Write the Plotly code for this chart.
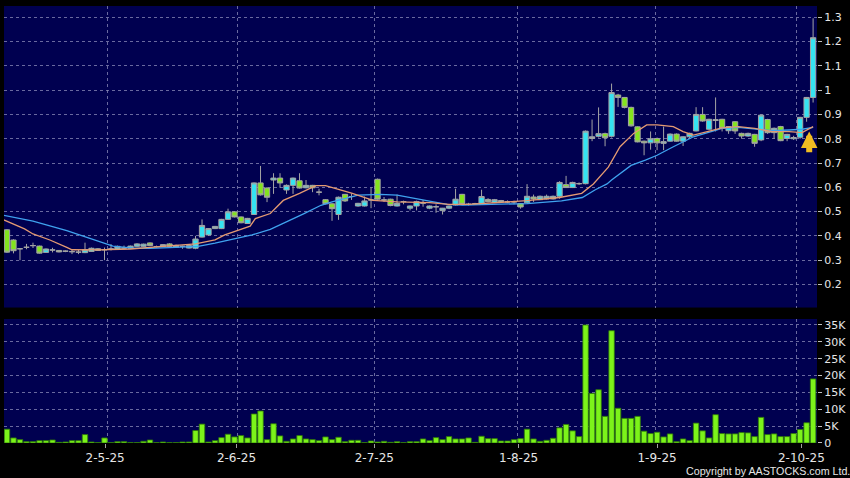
import plotly.graph_objects as go

# ---------------- data ----------------
idx = list(range(125))

opens = [.425, .383, .347, .353, .360, .358, .332, .342, .340, .337,
         .335, .333, .331, .336, .347, .343, .346, .346, .350, .349,
         .357, .357, .371, .356, .356, .367, .353, .357, .350, .349,
         .395, .404, .430, .430, .468, .499, .478, .451, .488, .618,
         .597, .630, .638, .589, .608, .627, .598, .608, .580, .549,
         .532, .488, .571, .562, .523, .523, .548, .633, .548, .551,
         .523, .541, .514, .523, .535, .514, .520, .504, .514, .527,
         .571, .530, .532, .530, .550, .537, .540, .540, .540, .533,
         .536, .560, .549, .552, .552, .563, .611, .599, .615, .615,
         .801, .810, .821, .810, .980, .970, .929, .849, .790, .783,
         .801, .781, .790, .819, .790, .808, .832, .900, .839, .875,
         .880, .833, .870, .822, .811, .818, .795, .879, .825, .850,
         .801, .800, .806, .888, .970]
highs = [.428, .386, .350, .367, .372, .360, .348, .351, .342, .340,
         .342, .342, .372, .352, .350, .352, .366, .360, .360, .360,
         .370, .368, .373, .360, .366, .370, .364, .360, .364, .400,
         .468, .432, .441, .470, .512, .502, .480, .474, .620, .688,
         .600, .658, .658, .612, .640, .658, .630, .610, .594, .551,
         .534, .562, .573, .575, .536, .562, .600, .636, .560, .553,
         .570, .545, .525, .545, .548, .525, .530, .515, .525, .594,
         .573, .536, .536, .590, .555, .552, .548, .546, .545, .535,
         .613, .570, .566, .570, .566, .625, .647, .623, .620, .834,
         .879, .929, .825, 1.027, .985, .972, .932, .851, .792, .830,
         .805, .850, .822, .822, .810, .825, .930, .930, .882, .970,
         .882, .852, .873, .825, .825, .820, .900, .882, .846, .853,
         .820, .812, .890, .972, 1.296]
lows = [.330, .328, .300, .345, .350, .327, .330, .332, .332, .333,
        .325, .325, .329, .334, .338, .300, .340, .344, .345, .347,
        .355, .355, .358, .352, .354, .355, .350, .347, .348, .345,
        .393, .400, .428, .428, .466, .476, .452, .449, .486, .566,
        .539, .573, .598, .573, .573, .595, .596, .580, .567, .530,
        .462, .466, .540, .548, .520, .521, .514, .549, .540, .522,
        .521, .530, .505, .505, .520, .510, .495, .488, .510, .525,
        .526, .525, .528, .528, .538, .535, .536, .535, .530, .512,
        .534, .540, .547, .550, .550, .553, .597, .597, .610, .612,
        .790, .805, .769, .805, .931, .925, .850, .785, .732, .755,
        .753, .753, .788, .788, .770, .800, .830, .870, .835, .830,
        .830, .820, .820, .800, .808, .767, .790, .820, .800, .790,
        .790, .795, .800, .870, .949]
closes = [.333, .339, .347, .353, .360, .329, .346, .342, .334, .337,
          .335, .333, .343, .349, .340, .343, .346, .357, .350, .358,
          .367, .366, .360, .356, .364, .357, .361, .357, .360, .387,
          .443, .430, .439, .468, .499, .478, .454, .472, .618, .569,
          .559, .638, .618, .608, .638, .597, .608, .598, .580, .532,
          .512, .559, .544, .562, .534, .544, .548, .551, .548, .525,
          .534, .541, .523, .541, .535, .523, .520, .514, .523, .551,
          .530, .530, .532, .562, .541, .549, .545, .540, .540, .519,
          .563, .552, .563, .563, .563, .620, .599, .620, .615, .831,
          .808, .821, .804, .990, .970, .929, .853, .787, .783, .800,
          .783, .788, .819, .790, .808, .822, .900, .873, .880, .878,
          .843, .850, .832, .811, .822, .781, .897, .825, .843, .792,
          .818, .805, .888, .970, 1.216]
volumes = [4100, 1500, 1000, 400, 400, 700, 700, 900, 200, 300,
           700, 700, 2500, 300, 100, 1500, 100, 400, 400, 100,
           100, 500, 900, 100, 300, 100, 100, 300, 300, 3700,
           5600, 300, 700, 1600, 2600, 1800, 2200, 1500, 8600, 9500,
           1000, 5700, 2100, 500, 1200, 2200, 1200, 1000, 700, 1800,
           1000, 1700, 400, 800, 800, 100, 600, 300, 500, 200,
           400, 100, 400, 400, 1200, 700, 1600, 1000, 1900, 1200,
           1200, 1500, 200, 2000, 1300, 1300, 600, 600, 1000, 1300,
           4100, 1200, 500, 800, 1400, 4500, 5500, 3600, 1900, 35000,
           14700, 15800, 7900, 33300, 10300, 7300, 7300, 7900, 3500, 2800,
           3200, 1800, 2700, 400, 1200, 700, 5900, 3600, 1500, 8400,
           2800, 2700, 2700, 3100, 3000, 1900, 7600, 2500, 2700, 1900,
           1900, 2800, 4000, 6000, 19000]

# moving-average lines (position, value)
ma_s_x = [-0.5, 2.7, 4, 6.6, 9.2, 10, 14, 19, 24, 29, 32, 33.5, 37.4, 38.2,
          40.5, 42.5, 45, 47.5, 49, 51, 53, 56.3, 60, 65, 68, 71, 75, 80, 85,
          88.4, 90.2, 92.5, 94.3, 96.4, 98.4, 100, 102.5, 104, 105.6, 108, 110,
          112.5, 115, 117.7, 120.3, 122.3, 124]
ma_s_y = [.466, .429, .408, .383, .353, .343, .342, .346, .357, .367, .384, .404,
          .440, .471, .492, .546, .575, .607, .607, .593, .576, .546, .540, .537,
          .530, .530, .537, .545, .558, .575, .614, .683, .767, .822, .857, .857,
          .850, .829, .815, .830, .845, .850, .843, .829, .829, .825, .850]
ma_l_x = [-0.5, 4, 9.2, 14.3, 16.3, 19.4, 22, 25, 29.4, 32, 34.6, 37.7, 40.5,
          43.1, 45.7, 48.3, 50, 54, 57.4, 60, 62.6, 65.1, 67.7, 70.2, 75.4, 80,
          85.3, 88.5, 90.5, 92.3, 93, 96, 98.2, 100, 102.5, 105.6, 107.4, 110,
          112.5, 115.1, 117.7, 120.3, 122.3, 124]
ma_l_y = [.485, .461, .422, .374, .358, .350, .349, .352, .357, .370, .386, .404,
          .427, .458, .492, .526, .540, .568, .571, .568, .555, .544, .530, .527,
          .530, .533, .544, .558, .590, .614, .630, .690, .712, .732, .767, .808,
          .822, .843, .847, .839, .833, .836, .839, .847]

date_pos = [15.1, 35.3, 56.5, 78.7, 100, 122.2]
date_text = ["2-5-25", "2-6-25", "2-7-25", "1-8-25", "1-9-25", "2-10-25"]
grid_pos = [15.5, 35.5, 56.5, 78.5, 99.7, 121.5]
price_ticks = [0.2, 0.3, 0.4, 0.5, 0.6, 0.7, 0.8, 0.9, 1.0, 1.1, 1.2, 1.3]
vol_ticks = [0, 5000, 10000, 15000, 20000, 25000, 30000, 35000]
vol_text = ["0", "5K", "10K", "15K", "20K", "25K", "30K", "35K"]

# ---------------- styling ----------------
BG = "#000050"
GRID = "rgba(140,140,185,0.75)"
CYAN = "#35e3f2"
GREEN = "#84e41e"
WICK = "#a4a4a4"
TICKFONT = dict(family="DejaVu Sans", size=11, color="#e6e6e6")

fig = go.Figure()

fig.add_trace(go.Candlestick(
    x=idx, open=opens, high=highs, low=lows, close=closes,
    increasing=dict(line=dict(color=WICK, width=1), fillcolor=CYAN),
    decreasing=dict(line=dict(color=WICK, width=1), fillcolor=GREEN),
    whiskerwidth=0, xaxis="x", yaxis="y", showlegend=False, hoverinfo="skip"))

fig.add_trace(go.Scatter(x=ma_l_x, y=ma_l_y, mode="lines",
                         line=dict(color="#3fa2ee", width=1.3),
                         xaxis="x", yaxis="y", showlegend=False, hoverinfo="skip"))
fig.add_trace(go.Scatter(x=ma_s_x, y=ma_s_y, mode="lines",
                         line=dict(color="#e49a72", width=1.3),
                         xaxis="x", yaxis="y", showlegend=False, hoverinfo="skip"))

fig.add_trace(go.Bar(x=idx, y=volumes, marker=dict(color="#7cf31a",
                     line=dict(color="#2f7a08", width=0.8)),
                     xaxis="x2", yaxis="y2", showlegend=False, hoverinfo="skip"))

xr = [-0.46, 124.6]
common_x = dict(range=xr, showgrid=False, zeroline=False, showline=False,
                minor=dict(tickmode="array", tickvals=grid_pos, showgrid=True,
                           gridcolor=GRID, griddash="3px,3px", gridwidth=1, ticks=""))

fig.update_layout(
    width=850, height=478,
    paper_bgcolor="#000000", plot_bgcolor=BG,
    margin=dict(l=4, r=33, t=6, b=35),
    boxgap=0.15, boxgroupgap=0.05, bargap=0.16,
    xaxis=dict(domain=[0, 1], anchor="y", showticklabels=False,
               rangeslider=dict(visible=False), ticks="", **common_x),
    xaxis2=dict(domain=[0, 1], anchor="y2", tickmode="array", tickvals=date_pos,
                ticktext=date_text, ticks="outside", ticklen=4, tickcolor="#a0a0a0",
                tickfont=dict(family="DejaVu Sans", size=12, color="#e6e6e6"),
                **common_x),
    yaxis=dict(domain=[0.31, 1], range=[0.105, 1.3465], side="right",
               tickmode="array", tickvals=price_ticks, ticks="outside", ticklen=4,
               tickcolor="#c0c0c0", tickfont=TICKFONT, showgrid=True,
               gridcolor=GRID, griddash="3px,3px", zeroline=False, showline=False),
    yaxis2=dict(domain=[0, 0.2838], range=[0, 36780], side="right",
                tickmode="array", tickvals=vol_ticks, ticktext=vol_text,
                ticks="outside", ticklen=4, tickcolor="#c0c0c0", tickfont=TICKFONT,
                showgrid=True, gridcolor=GRID, griddash="3px,3px",
                zeroline=False, showline=False),
    annotations=[
        dict(x=123.4, y=0.830, ax=123.4, ay=0.738, xref="x", yref="y",
             axref="x", ayref="y", text="", showarrow=True, arrowhead=2,
             arrowsize=0.55, arrowwidth=6, arrowcolor="#f2bd22"),
        dict(x=1.043, y=-0.064, xref="paper", yref="paper", xanchor="right",
             yanchor="middle", showarrow=False,
             text="Copyright by AASTOCKS.com Ltd.",
             font=dict(family="Liberation Sans", size=10.7, color="#e6e6e6")),
    ],
)

fig.write_html("out.html", config={"displayModeBar": False},
               post_script="document.body.style.margin='0';"
                           "document.body.style.background='#000';")
